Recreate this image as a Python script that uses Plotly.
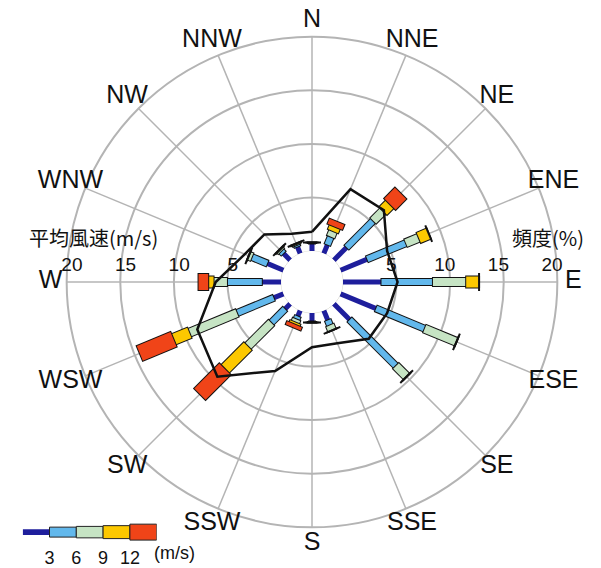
import numpy as np
import plotly.graph_objects as go

# ---------------- data ----------------
directions = ["N", "NNE", "NE", "ENE", "E", "ESE", "SE", "SSE",
              "S", "SSW", "SW", "WSW", "W", "WNW", "NW", "NNW"]
dir_angles = [i * 22.5 for i in range(16)]

# frequency (%) of each speed class per direction
freq_lt3 = [0.7, 0.9, 1.7, 2.7, 3.6, 3.6, 2.1, 1.0, 0.8, 0.6, 0.7, 1.0, 1.8, 1.65, 0.9, 0.7]
freq_3_6 = [0.05, 0.8, 3.5, 3.9, 4.8, 4.9, 6.1, 0.5, 0.05, 0.3, 1.8, 3.7, 3.25, 1.55, 0.3, 0.15]
freq_6_9 = [0.05, 0.55, 1.3, 1.3, 3.1, 3.2, 1.4, 0.5, 0.05, 0.3, 3.1, 4.8, 1.25, 0.3, 0.15, 0.1]
freq_9_12 = [0.0, 0.45, 0.9, 1.0, 1.2, 0.0, 0.0, 0.0, 0.0, 0.2, 3.0, 1.6, 0.5, 0.0, 0.05, 0.05]
freq_ge12 = [0.0, 0.5, 1.4, 0.0, 0.0, 0.0, 0.0, 0.0, 0.0, 0.3, 3.3, 3.4, 0.9, 0.0, 0.0, 0.0]

# mean wind speed (m/s) per direction
mean_speed = [1.8, 6.5, 6.6, 4.7, 5.1, 4.7, 4.6, 3.3, 3.2, 6.1, 9.6, 8.7, 6.1, 3.9, 3.4, 2.0]

radial_ticks = [5, 10, 15, 20]
legend_ticks = [3, 6, 9, 12]
legend_step = 3

# ---------------- styles / geometry ----------------
class_colors = ["#1e1e9c", "#62b8ec", "#c6e4c4", "#fcc800", "#f04418"]
class_widths = [5, 6, 8, 11, 16]          # fill line width (px)
legend_heights = [0.6, 1.0, 1.15, 1.3, 1.6]
grid_col = "#b4b4b4"
LAT = "Liberation Sans, Arial, sans-serif"
CJK = "Noto Sans CJK JP, sans-serif"
NB = "\u00a0"

W, H = 601, 568
CX, CY = 312.0, 283.0        # centre of the rose (px)
HOLE_PX = 31.0               # radius of the empty centre (px)
PX_PER_UNIT = 10.76          # px per % / per m/s
R_OUTER = 20.0               # outer ring value
R_MAX = 22.5                 # radial range kept for the compass labels
LABEL_R = 21.5               # compass label position
R_TOTAL_PX = HOLE_PX + PX_PER_UNIT * R_MAX
HOLE = HOLE_PX / R_TOTAL_PX
d = 1.0 / PX_PER_UNIT


def px2x(px):
    return px / W


def py2y(py):
    return 1 - py / H


stack = np.vstack([freq_lt3, freq_3_6, freq_6_9, freq_9_12, freq_ge12])
cum = np.cumsum(stack, axis=0)
start = cum - stack

fig = go.Figure()

# spokes (angular grid limited to the outer ring) and the centre circle
sp_r, sp_t = [], []
for ang in dir_angles:
    sp_r += [0, R_OUTER, None]
    sp_t += [ang, ang, None]
fig.add_trace(go.Scatterpolar(r=sp_r, theta=sp_t, mode="lines",
                              line=dict(color=grid_col, width=1.5),
                              hoverinfo="skip", showlegend=False))
circ_t = list(np.linspace(0, 360, 181))
fig.add_trace(go.Scatterpolar(r=[0] * len(circ_t), theta=circ_t, mode="lines",
                              line=dict(color="#d4d4c8", width=1),
                              hoverinfo="skip", showlegend=False))

for k in range(5):
    r_out, t_out, r_in, t_in = [], [], [], []
    for i, ang in enumerate(dir_angles):
        r0, r1 = float(start[k, i]), float(cum[k, i])
        if k > 0:
            r_out += [max(r0 - d, 0.0), r1 + d, None]
            t_out += [ang, ang, None]
        if r1 > r0:
            r_in += [r0, r1, None]
            t_in += [ang, ang, None]
    if k > 0:
        fig.add_trace(go.Scatterpolar(r=r_out, theta=t_out, mode="lines",
                                      line=dict(color="#111111", width=class_widths[k] + 2),
                                      hoverinfo="skip", showlegend=False))
    fig.add_trace(go.Scatterpolar(r=r_in, theta=t_in, mode="lines",
                                  line=dict(color=class_colors[k], width=class_widths[k]),
                                  hoverinfo="skip", showlegend=False))

# mean wind speed polygon
fig.add_trace(go.Scatterpolar(r=mean_speed + [mean_speed[0]],
                              theta=dir_angles + [dir_angles[0]],
                              mode="lines", line=dict(color="#111111", width=2.5),
                              hoverinfo="skip", showlegend=False))

# radial scale labels (left: mean speed, right: frequency)
fig.add_trace(go.Scatterpolar(r=radial_ticks, theta=[270] * 4, mode="markers+text",
                              marker=dict(size=8, color="rgba(0,0,0,0)"),
                              text=[NB * 2 + str(v) for v in radial_ticks],
                              textposition="top center",
                              textfont=dict(size=19, family=LAT, color="#111"),
                              hoverinfo="skip", showlegend=False))
fig.add_trace(go.Scatterpolar(r=radial_ticks, theta=[90] * 4, mode="markers+text",
                              marker=dict(size=8, color="rgba(0,0,0,0)"),
                              text=[str(v) + NB * 2 for v in radial_ticks],
                              textposition="top center",
                              textfont=dict(size=19, family=LAT, color="#111"),
                              hoverinfo="skip", showlegend=False))

# compass direction labels
fig.add_trace(go.Scatterpolar(r=[LABEL_R] * 16, theta=dir_angles, mode="text",
                              text=directions, textposition="middle center",
                              textfont=dict(size=25, family=LAT, color="#111"),
                              cliponaxis=False, hoverinfo="skip", showlegend=False))

# legend bar
for k in range(5):
    fig.add_trace(go.Bar(x=[legend_step], base=[k * legend_step], y=[0], orientation="h",
                         width=[legend_heights[k]],
                         marker=dict(color=class_colors[k],
                                     line=dict(color="#222", width=1 if k > 0 else 0)),
                         xaxis="x", yaxis="y", hoverinfo="skip", showlegend=False))

fig.update_layout(
    width=W, height=H, margin=dict(l=0, r=0, t=0, b=0),
    paper_bgcolor="white", plot_bgcolor="white", barmode="overlay",
    polar=dict(
        domain=dict(x=[px2x(CX - R_TOTAL_PX), px2x(CX + R_TOTAL_PX)],
                    y=[py2y(CY + R_TOTAL_PX), py2y(CY - R_TOTAL_PX)]),
        hole=HOLE, bgcolor="rgba(0,0,0,0)",
        radialaxis=dict(range=[0, R_MAX], tickvals=radial_ticks, showticklabels=False,
                        ticks="", showline=False, gridcolor=grid_col, gridwidth=1.5),
        angularaxis=dict(rotation=90, direction="clockwise", tickmode="array",
                         tickvals=dir_angles, ticks="", showticklabels=False,
                         showgrid=False, showline=False),
    ),
    xaxis=dict(domain=[px2x(22.7), px2x(156.7)], range=[0, 15], tickvals=legend_ticks,
               ticktext=[str(v) for v in legend_ticks], showgrid=False, zeroline=False,
               showline=False, ticks="", ticklabelstandoff=3,
               tickfont=dict(size=18, family=LAT, color="#111")),
    yaxis=dict(domain=[py2y(544), py2y(524)], range=[-1, 1], visible=False),
    annotations=[
        dict(text="(m/s)", x=px2x(174), y=py2y(555), xref="paper", yref="paper",
             xanchor="center", yanchor="middle",
             showarrow=False, font=dict(size=18, family=LAT, color="#111")),
        dict(text="平均風速(m/s)", x=px2x(93), y=py2y(238), xref="paper", yref="paper",
             xanchor="center", yanchor="middle",
             showarrow=False, font=dict(size=20, family=CJK, color="#111")),
        dict(text="頻度(%)", x=px2x(548), y=py2y(238), xref="paper", yref="paper",
             xanchor="center", yanchor="middle",
             showarrow=False, font=dict(size=20, family=CJK, color="#111")),
    ],
)

fig.write_html("out.html", config={"displayModeBar": False},
               post_script="document.body.style.margin='0';document.body.style.overflow='hidden';")
